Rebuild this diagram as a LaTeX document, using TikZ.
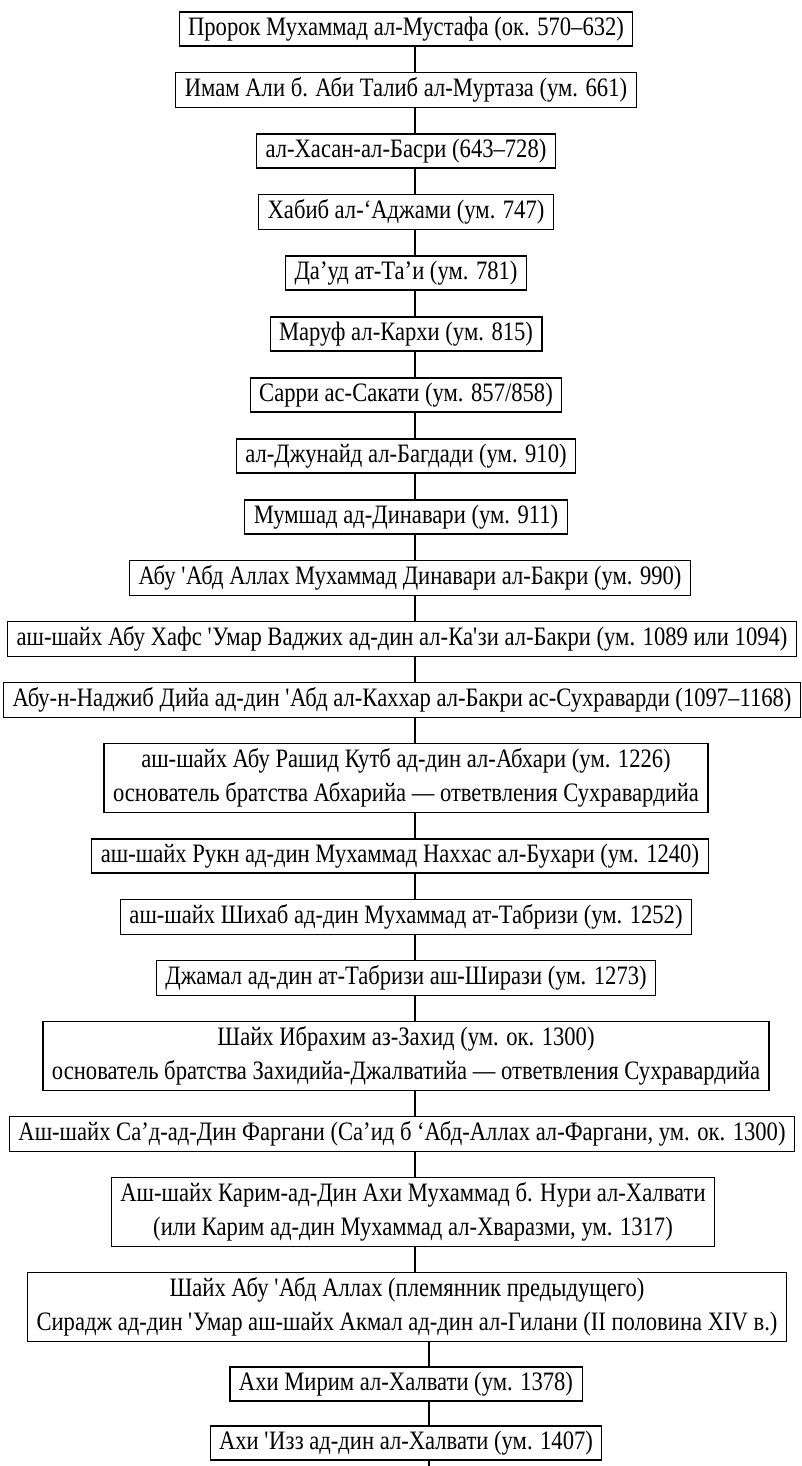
\documentclass[tikz,border=0pt]{standalone}
\usepackage{fontspec}
\setmainfont[FakeStretch=0.85]{Liberation Serif}
\tikzset{
  pers/.style={draw, line width=0.55pt, inner xsep=4.5pt, inner ysep=2.45pt,
    minimum height=17pt, align=center, font=\fontsize{13.3}{17}\selectfont},
}
\begin{document}
\begin{tikzpicture}[x=0.5pt,y=-0.5pt]
      \useasboundingbox (0,0) rectangle (802,1466);
      \coordinate (spine) at (415,0);
      \coordinate (spinelow) at (429,0);
      \coordinate (tail) at (429,1466);
      \draw
        (406,29) node[pers] (p1) {Пророк Мухаммад ал-Мустафа (ок. 570–632)}
        (406,90) node[pers] (p2) {Имам Али б. Аби Талиб ал-Муртаза (ум. 661)}
        (406,151) node[pers] (p3) {ал-Хасан-ал-Басри (643–728)}
        (406,212) node[pers] (p4) {Хабиб ал-‘Аджами (ум. 747)}
        (406,273) node[pers] (p5) {Да’уд ат-Та’и (ум. 781)}
        (406,334) node[pers] (p6) {Маруф ал-Кархи (ум. 815)}
        (406,395) node[pers] (p7) {Сарри ас-Сакати (ум. 857/858)}
        (406,456) node[pers] (p8) {ал-Джунайд ал-Багдади (ум. 910)}
        (406,517) node[pers] (p9) {Мумшад ад-Динавари (ум. 911)}
        (410,578) node[pers] (p10) {Абу \textquotesingle Абд Аллах Мухаммад Динавари ал-Бакри (ум. 990)}
        (402,639) node[pers] (p11) {аш-шайх Абу Хафс \textquotesingle Умар Ваджих ад-дин ал-Ка\textquotesingle зи ал-Бакри (ум. 1089 или 1094)}
        (402,700) node[pers] (p12) {Абу-н-Наджиб Дийа ад-дин \textquotesingle Абд ал-Каххар ал-Бакри ас-Сухраварди (1097–1168)}
        (406,778) node[pers] (p13) {аш-шайх Абу Рашид Кутб ад-дин ал-Абхари (ум. 1226)\\основатель братства Абхарийа — ответвления Сухравардийа}
        (400,856) node[pers] (p14) {аш-шайх Рукн ад-дин Мухаммад Наххас ал-Бухари (ум. 1240)}
        (406,917) node[pers] (p15) {аш-шайх Шихаб ад-дин Мухаммад ат-Табризи (ум. 1252)}
        (406,978) node[pers] (p16) {Джамал ад-дин ат-Табризи аш-Ширази (ум. 1273)}
        (406,1056) node[pers] (p17) {Шайх Ибрахим аз-Захид (ум. ок. 1300)\\основатель братства Захидийа-Джалватийа — ответвления Сухравардийа}
        (402,1134) node[pers] (p18) {Аш-шайх Са’д-ад-Дин Фаргани (Са’ид б ‘Абд-Аллах ал-Фаргани, ум. ок. 1300)}
        (413,1212) node[pers] (p19) {Аш-шайх Карим-ад-Дин Ахи Мухаммад б. Нури ал-Халвати\\(или Карим ад-дин Мухаммад ал-Хваразми, ум. 1317)}
        (407,1307) node[pers] (p20) {Шайх Абу \textquotesingle Абд Аллах (племянник предыдущего)\\Сирадж ад-дин \textquotesingle Умар аш-шайх Акмал ад-дин ал-Гилани (II половина XIV в.)}
        (406,1384) node[pers] (p21) {Ахи Мирим ал-Халвати (ум. 1378)}
        (406,1443) node[pers] (p22) {Ахи \textquotesingle Изз ад-дин ал-Халвати (ум. 1407)};
      \begin{scope}[-, line width=0.55pt]
        \draw (p1.south -| spine) to (p2.north -| spine);
        \draw (p2.south -| spine) to (p3.north -| spine);
        \draw (p3.south -| spine) to (p4.north -| spine);
        \draw (p4.south -| spine) to (p5.north -| spine);
        \draw (p5.south -| spine) to (p6.north -| spine);
        \draw (p6.south -| spine) to (p7.north -| spine);
        \draw (p7.south -| spine) to (p8.north -| spine);
        \draw (p8.south -| spine) to (p9.north -| spine);
        \draw (p9.south -| spine) to (p10.north -| spine);
        \draw (p10.south -| spine) to (p11.north -| spine);
        \draw (p11.south -| spine) to (p12.north -| spine);
        \draw (p12.south -| spine) to (p13.north -| spine);
        \draw (p13.south -| spine) to (p14.north -| spine);
        \draw (p14.south -| spine) to (p15.north -| spine);
        \draw (p15.south -| spine) to (p16.north -| spine);
        \draw (p16.south -| spine) to (p17.north -| spine);
        \draw (p17.south -| spine) to (p18.north -| spine);
        \draw (p18.south -| spine) to (p19.north -| spine);
        \draw (p19.south -| spine) to (p20.north -| spine);
        \draw (p20.south -| spinelow) to (p21.north -| spinelow);
        \draw (p21.south -| spinelow) to (p22.north -| spinelow);
        \draw (p22.south -| spinelow) to (tail);
      \end{scope}
    \end{tikzpicture}
\end{document}
